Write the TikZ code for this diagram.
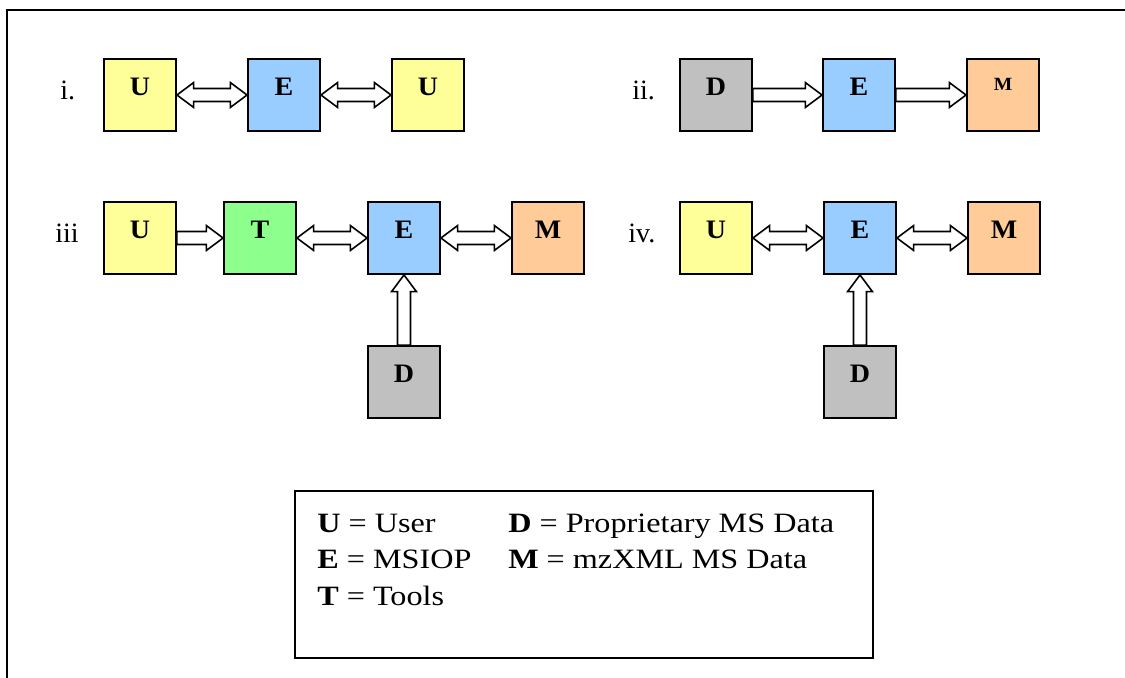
\documentclass[tikz,border=0pt]{standalone}
\usepackage{fontspec}
\setmainfont{Liberation Serif}
\newfontfamily\legfont{Liberation Serif}[FakeStretch=1.15]
\newfontfamily\boxfont{Liberation Serif}[FakeStretch=1.05]
\usetikzlibrary{calc}
\definecolor{cyel}{HTML}{FFFF99}
\definecolor{cblu}{HTML}{99CCFF}
\definecolor{cgrn}{HTML}{8CFF8C}
\definecolor{cora}{HTML}{FFCC99}
\definecolor{cgry}{HTML}{C0C0C0}
\newcommand{\arrw}{4.9pt}
\newcommand{\arrh}{9.3pt}
\newcommand{\arrl}{12.5pt}
\newcommand{\sarrow}[2]{%
  \path ($(#2)!\arrl!(#1)$) coordinate (hb);
  \draw[barrow] ($(#1)!\arrw!90:(#2)$) -- ($(hb)!\arrw!90:(#2)$) -- ($(hb)!\arrh!90:(#2)$)
    -- (#2) -- ($(hb)!\arrh!-90:(#2)$) -- ($(hb)!\arrw!-90:(#2)$) -- ($(#1)!\arrw!-90:(#2)$) -- cycle;}
\newcommand{\darrow}[2]{%
  \path ($(#1)!\arrl!(#2)$) coordinate (ha) ($(#2)!\arrl!(#1)$) coordinate (hb);
  \draw[barrow] (#1) -- ($(ha)!\arrh!90:(#2)$) -- ($(ha)!\arrw!90:(#2)$) -- ($(hb)!\arrw!90:(#2)$)
    -- ($(hb)!\arrh!90:(#2)$) -- (#2) -- ($(hb)!\arrh!-90:(#2)$) -- ($(hb)!\arrw!-90:(#2)$)
    -- ($(ha)!\arrw!-90:(#2)$) -- ($(ha)!\arrh!-90:(#2)$) -- cycle;}
\tikzset{
  blk/.style={draw, line width=1.4pt, minimum width=54pt, minimum height=54pt, inner sep=0pt,
    font=\boxfont\bfseries\fontsize{20}{22}\selectfont, text height=13.5pt, text depth=12.3pt},
  smallm/.style={font=\boxfont\bfseries\fontsize{14}{16}\selectfont, text height=9.5pt, text depth=16pt},
  barrow/.style={draw, fill=white, line width=1.2pt, line join=miter},
  rowlab/.style={anchor=base west, inner sep=0pt, font=\fontsize{21}{24}\selectfont},
  legtxt/.style={anchor=base west, inner sep=0pt, font=\legfont\fontsize{21}{24}\selectfont},
}
\begin{document}
\begin{tikzpicture}[x=0.75pt, y=-0.75pt]
\useasboundingbox (0,0) rectangle (1125,678);
\fill[white] (0,0) rectangle (1125,678);
% frame (top and left)
\draw[line width=1.8pt] (7,678) -- (7,10) -- (1125,10);

% row i
\node[rowlab] (li) at (60,99) {i.};
\node[blk, fill=cyel] (U1) at (140,95) {U};
\node[blk, fill=cblu] (E1) at (284,95) {E};
\node[blk, fill=cyel] (U2) at (428,95) {U};
\darrow{U1.east}{E1.west}
\darrow{E1.east}{U2.west}

% row ii
\node[rowlab] (lii) at (632,99) {ii.};
\node[blk, fill=cgry] (D2) at (716,95) {D};
\node[blk, fill=cblu] (E2) at (859,95) {E};
\node[blk, smallm, fill=cora] (M2) at (1003,95) {M};
\sarrow{D2.east}{E2.west}
\sarrow{E2.east}{M2.west}

% row iii
\node[rowlab] (liii) at (55,242) {iii};
\node[blk, fill=cyel] (U3) at (140,238) {U};
\node[blk, fill=cgrn] (T3) at (260,238) {T};
\node[blk, fill=cblu] (E3) at (404,238) {E};
\node[blk, fill=cora] (M3) at (548,238) {M};
\node[blk, fill=cgry] (D3) at (404,382) {D};
\sarrow{U3.east}{T3.west}
\darrow{T3.east}{E3.west}
\darrow{E3.east}{M3.west}
\sarrow{D3.north}{E3.south}

% row iv
\node[rowlab] (liv) at (628,242) {iv.};
\node[blk, fill=cyel] (U4) at (716,238) {U};
\node[blk, fill=cblu] (E4) at (860,238) {E};
\node[blk, fill=cora] (M4) at (1004,238) {M};
\node[blk, fill=cgry] (D4) at (860,382) {D};
\darrow{U4.east}{E4.west}
\darrow{E4.east}{M4.west}
\sarrow{D4.north}{E4.south}

% legend
\draw[line width=1.3pt] (295,491) rectangle (873,658);
\node[legtxt] (lu) at (317,532) {\textbf{U} = User};
\node[legtxt] (ld) at (508,532) {\textbf{D} = Proprietary MS Data};
\node[legtxt] (le) at (317,568) {\textbf{E} = MSIOP};
\node[legtxt] (lm) at (508,568) {\textbf{M} = mzXML MS Data};
\node[legtxt] (lt) at (317,605) {\textbf{T} = Tools};
\end{tikzpicture}
\end{document}
